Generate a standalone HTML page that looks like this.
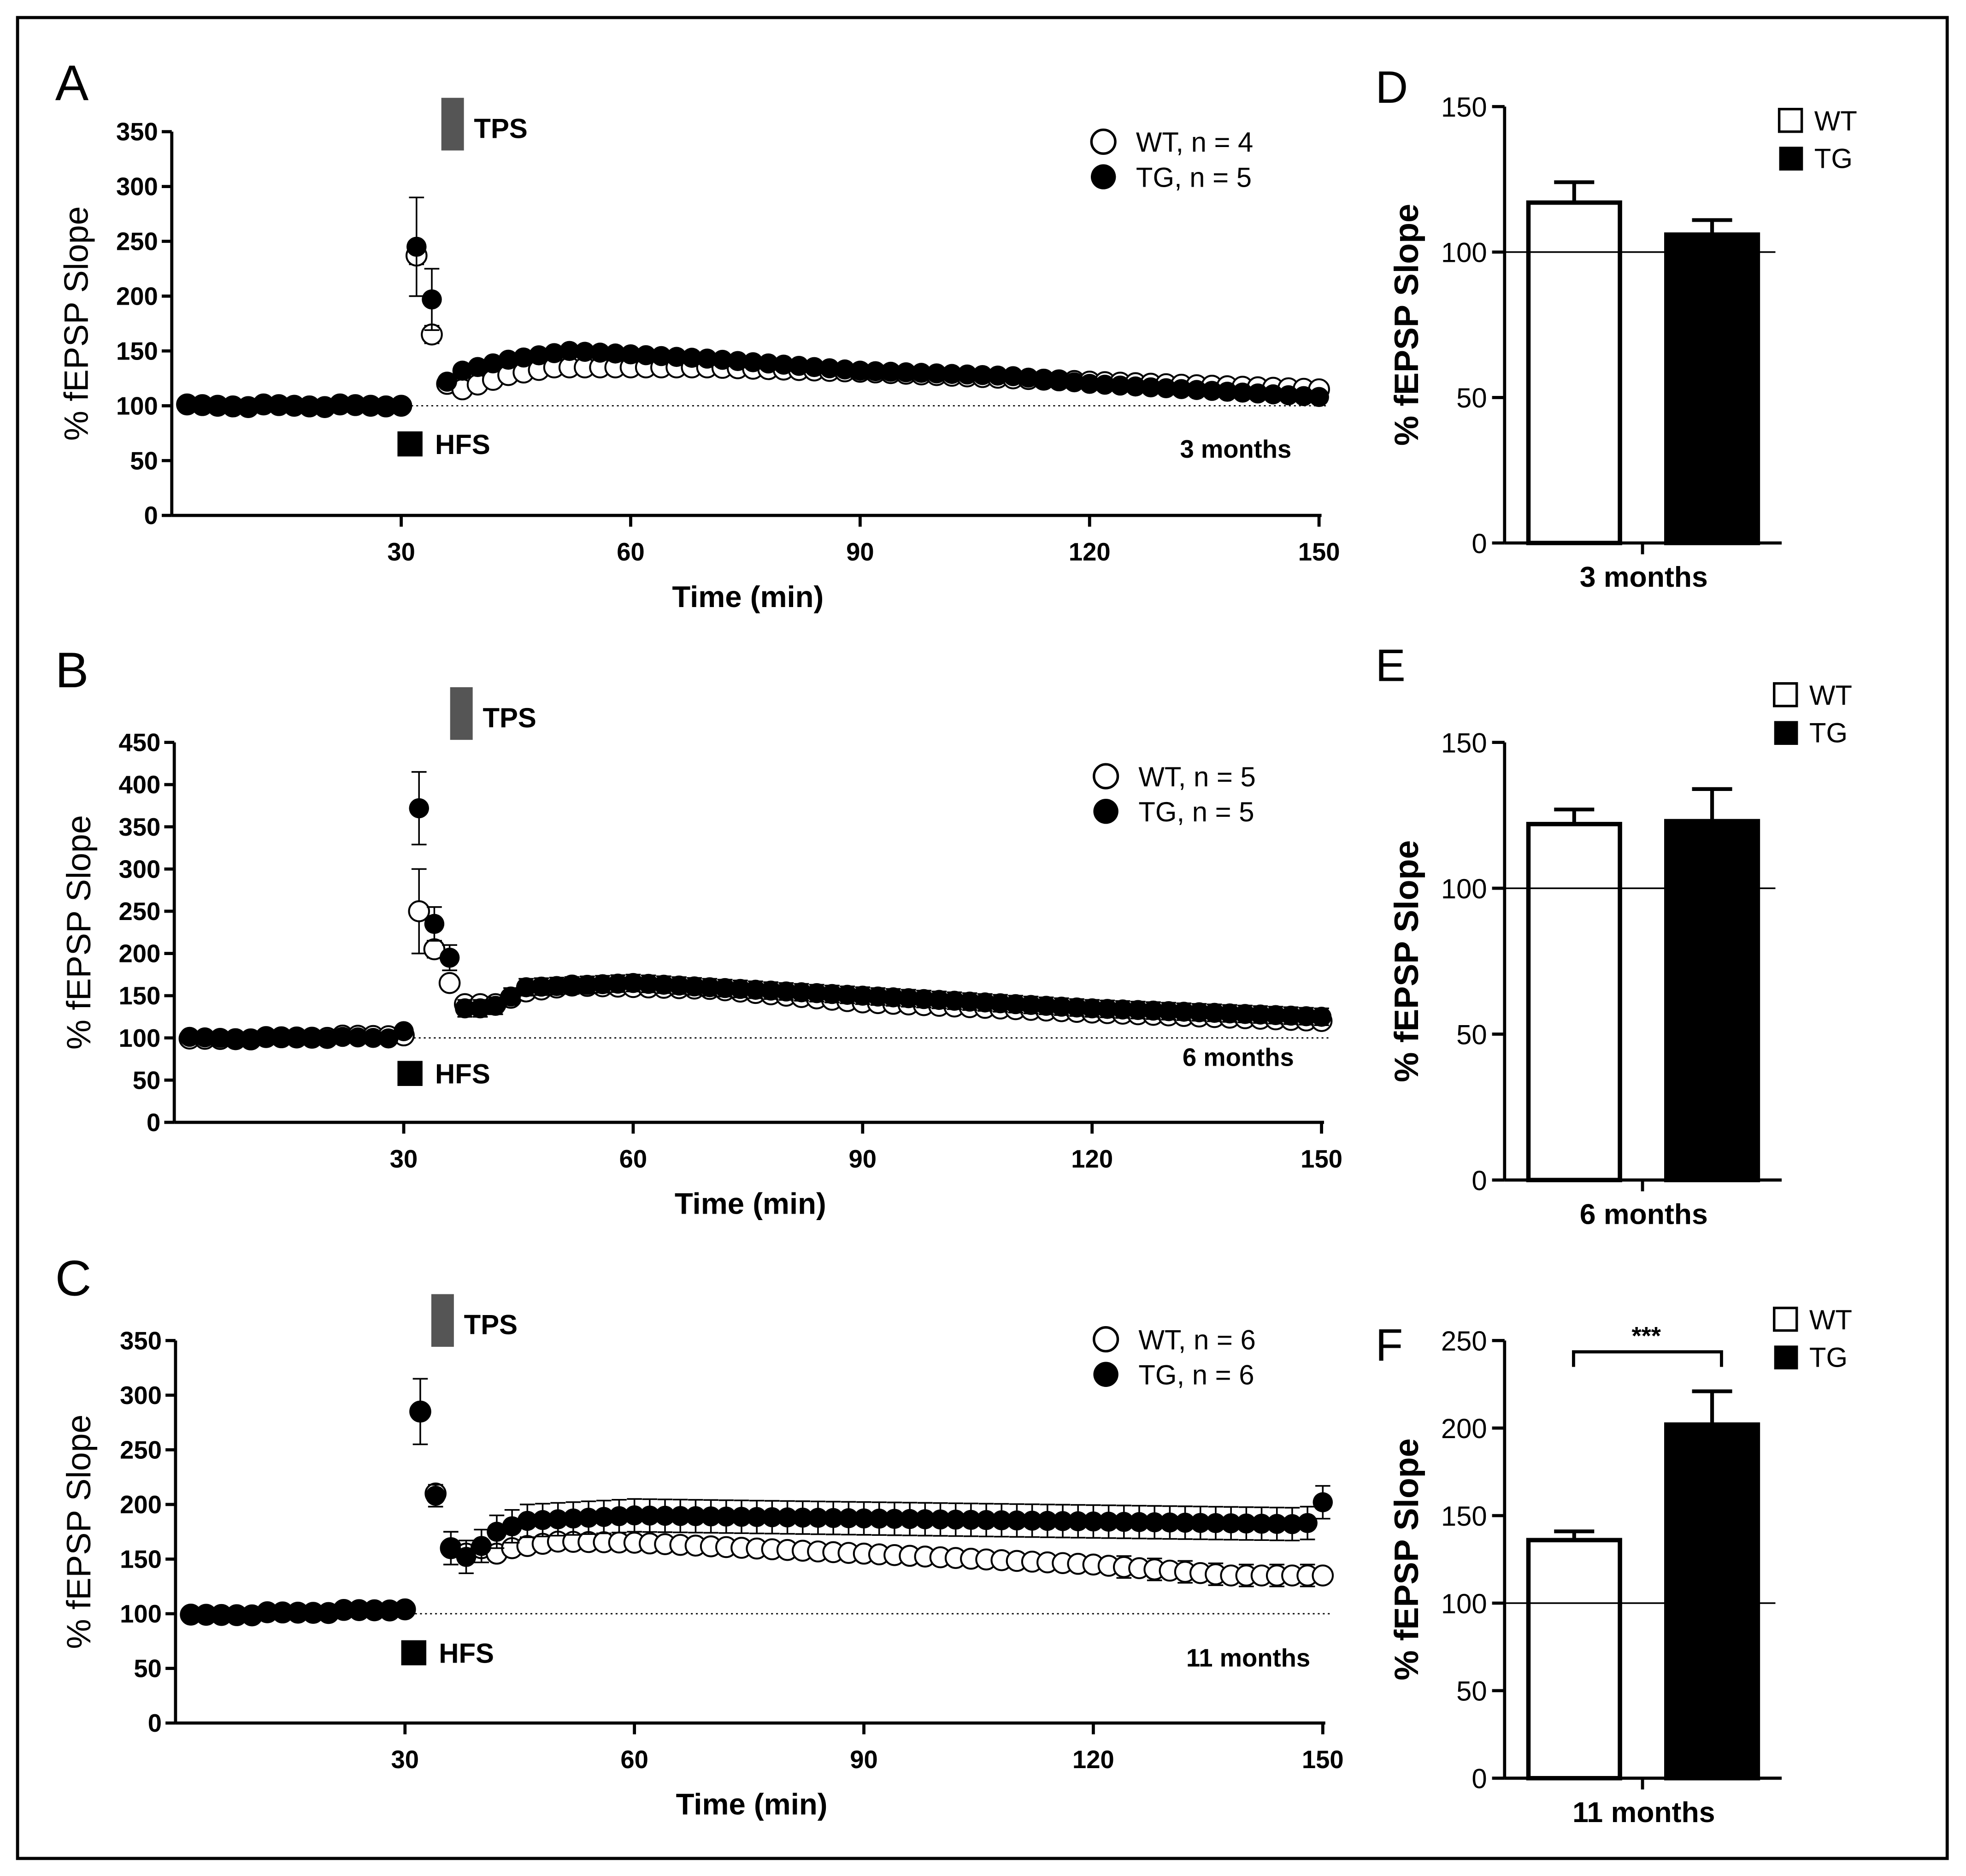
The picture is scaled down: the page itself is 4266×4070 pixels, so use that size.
<!DOCTYPE html>
<html><head><meta charset="utf-8"><style>
html,body{margin:0;padding:0;background:#fff}
svg{display:block}
text{font-family:"Liberation Sans",Arial,sans-serif}
.t{font-weight:bold;font-size:20px}
.lab{font-size:27px}
.big{font-size:40px}
</style></head><body>
<svg id="s" width="4266" height="4070" viewBox="0 0 1568 1496" preserveAspectRatio="none" xmlns="http://www.w3.org/2000/svg">
<rect x="0" y="0" width="1568" height="1496" fill="#fff"/>
<rect x="14" y="14" width="1539" height="1468" fill="none" stroke="#000" stroke-width="2.5"/>
<g id="g"></g>
</svg>
<script>
const g=document.getElementById('g');let h='';
function interp(pts,t){for(let i=0;i<pts.length-1;i++){if(t>=pts[i][0]&&t<=pts[i+1][0]){const a=pts[i],b=pts[i+1];return a[1]+(b[1]-a[1])*(t-a[0])/(b[0]-a[0]);}}return pts[pts.length-1][1];}
function line(panel){
 const P=panel;const X=t=>P.x30+(t-30)*(P.x150-P.x30)/120;const Y=v=>P.y0-(v)*(P.y0-P.ytop)/P.ymax;
 const x0=X(0);
 h+=`<line x1="${x0}" y1="${P.ytop}" x2="${x0}" y2="${P.y0}" stroke="#000" stroke-width="2.5"/>`;
 h+=`<line x1="${x0}" y1="${P.y0}" x2="${P.x150+2}" y2="${P.y0}" stroke="#000" stroke-width="2.5"/>`;
 for(let v=0;v<=P.ymax;v+=50){const y=Y(v);h+=`<line x1="${x0-8}" y1="${y}" x2="${x0}" y2="${y}" stroke="#000" stroke-width="2.5"/><text class="t" x="${x0-11}" y="${y+7}" text-anchor="end">${v}</text>`;}
 for(let t=30;t<=150;t+=30){const x=X(t);h+=`<line x1="${x}" y1="${P.y0}" x2="${x}" y2="${P.y0+9}" stroke="#000" stroke-width="2.5"/><text class="t" x="${x}" y="${P.y0+36}" text-anchor="middle">${t}</text>`;}
 h+=`<text class="t" style="font-size:24px" x="${(X(0)+X(150))/2+2}" y="${P.y0+73}" text-anchor="middle">Time (min)</text>`;
 const cy=(P.ytop+P.y0)/2;
 h+=`<text class="lab" transform="translate(${P.ylx},${cy}) rotate(-90)" text-anchor="middle">% fEPSP Slope</text>`;
 h+=`<text class="big" x="44" y="${P.Ly}">${P.L}</text>`;
 h+=`<line x1="${X(30)}" y1="${Y(100)}" x2="${X(151)}" y2="${Y(100)}" stroke="#000" stroke-width="1" stroke-dasharray="1.5,2.5"/>`;
 h+=`<rect x="${P.tps[0]}" y="${P.tps[1]}" width="18" height="42" fill="#555"/><text class="t" style="font-size:22px" x="${P.tps[0]+26}" y="${P.tps[1]+32}">TPS</text>`;
 h+=`<rect x="${P.hfs[0]}" y="${P.hfs[1]}" width="20" height="20" fill="#000"/><text class="t" style="font-size:22px" x="${P.hfs[0]+30}" y="${P.hfs[1]+18}">HFS</text>`;
 h+=`<circle cx="${P.leg[0]}" cy="${P.leg[1]}" r="9.5" fill="#fff" stroke="#000" stroke-width="2"/><text style="font-size:22px" x="${P.leg[0]+26}" y="${P.leg[1]+8}">${P.n1}</text>`;
 h+=`<circle cx="${P.leg[0]}" cy="${P.leg[1]+28}" r="10" fill="#000"/><text style="font-size:22px" x="${P.leg[0]+26}" y="${P.leg[1]+36}">${P.n2}</text>`;
 h+=`<text class="t" x="${P.mo[0]}" y="${P.mo[1]}" text-anchor="end">${P.mon}</text>`;
 const r=8;
 [['wt',P.wt,P.ewt],['tg',P.tg,P.etg]].forEach(([k,pts,e])=>{
  for(let t=2;t<=150;t+=2){ if(t==30&&false)continue;
   let v=interp(pts,t)+(t<30?((t*7)%5-2)*0.6:0);const x=X(t),y=Y(v);
   let ee=e(t,v);
   if(ee>0){const yt=Y(v+ee),yb=Y(v-ee);
    const up=k=='tg', dn=true;
    h+=`<line x1="${x}" y1="${yt}" x2="${x}" y2="${yb}" stroke="#000" stroke-width="1.3"/><line x1="${x-6}" y1="${yt}" x2="${x+6}" y2="${yt}" stroke="#000" stroke-width="1.3"/><line x1="${x-6}" y1="${yb}" x2="${x+6}" y2="${yb}" stroke="#000" stroke-width="1.3"/>`;}
   h+=k=='wt'?`<circle cx="${x}" cy="${y}" r="${r}" fill="#fff" stroke="#000" stroke-width="1.5"/>`:`<circle cx="${x}" cy="${y}" r="${r}" fill="#000"/>`;
  }
 });
}
// order: wt drawn first then tg over; in C/B wt hidden partially
line({L:'A',Ly:80,x30:320,x150:1052,y0:411,ytop:105,ymax:350,ylx:70,tps:[352,78],hfs:[317,344],leg:[880,113],n1:'WT, n = 4',n2:'TG, n = 5',mo:[1030,365],mon:'3 months',
 wt:[[2,100],[30,100],[32,237],[34,165],[36,120],[38,115],[44,128],[50,135],[70,135],[90,131],[120,122],[150,115]],
 tg:[[2,100],[30,100],[32,245],[34,197],[36,122],[38,132],[44,142],[52,150],[70,143],[90,132],[110,127],[120,120],[150,108]],
 ewt:(t,v)=>t==32?8:t==34?8:0, etg:(t,v)=>t==32?45:t==34?28:0});
line({L:'B',Ly:548,x30:322,x150:1054,y0:895,ytop:592,ymax:450,ylx:72,tps:[359,548],hfs:[317,846],leg:[882,619],n1:'WT, n = 5',n2:'TG, n = 5',mo:[1032,850],mon:'6 months',
 wt:[[2,98],[30,103],[32,250],[34,205],[36,165],[38,140],[42,140],[46,155],[52,162],[70,158],[90,142],[120,130],[150,120]],
 tg:[[2,100],[28,100],[30,108],[32,372],[34,235],[36,195],[38,135],[40,135],[42,138],[46,160],[60,165],[90,150],[120,135],[150,125]],
 ewt:(t,v)=>t==32?50:t==34?10:0, etg:(t,v)=>t==32?43:t==34?20:t==36?15:t>=38?10:0});
line({L:'C',Ly:1033,x30:323,x150:1055,y0:1374,ytop:1069,ymax:350,ylx:72,tps:[344,1032],hfs:[320,1308],leg:[882,1068],n1:'WT, n = 6',n2:'TG, n = 6',mo:[1045,1329],mon:'11 months',
 wt:[[2,98],[30,104],[32,285],[34,210],[36,160],[38,155],[40,160],[42,155],[44,160],[50,166],[60,165],[90,155],[120,145],[138,135],[150,135]],
 tg:[[2,98],[30,104],[32,285],[34,208],[36,160],[38,152],[40,162],[42,175],[46,185],[60,190],[146,182],[148,183],[150,202]],
 ewt:(t,v)=>t>=124&&t%4==0?10:0, etg:(t,v)=>t==32?30:t==34?10:t>=36?15:0});
// bar panels
function bar(B){
 const Y=v=>B.y0-v*(B.y0-B.ytop)/B.ymax;const x0=1200;
 h+=`<line x1="${x0}" y1="${B.ytop}" x2="${x0}" y2="${B.y0}" stroke="#000" stroke-width="2.5"/><line x1="${x0}" y1="${B.y0}" x2="1421" y2="${B.y0}" stroke="#000" stroke-width="2.5"/>`;
 h+=`<line x1="1310" y1="${B.y0}" x2="1310" y2="${B.y0+9}" stroke="#000" stroke-width="2.5"/>`;
 for(let v=0;v<=B.ymax;v+=50){const y=Y(v);h+=`<line x1="${x0-10}" y1="${y}" x2="${x0}" y2="${y}" stroke="#000" stroke-width="2.5"/><text style="font-size:22px" x="${x0-14}" y="${y+8}" text-anchor="end">${v}</text>`;}
 h+=`<text class="t" style="font-size:23px" x="1311" y="${B.y0+35}" text-anchor="middle">${B.mon}</text>`;
 h+=`<text class="t" style="font-size:27px" transform="translate(1131,${(B.ytop+B.y0)/2}) rotate(-90)" text-anchor="middle">% fEPSP Slope</text>`;
 h+=`<text class="big" style="font-size:36px" x="1097" y="${B.Ly}">${B.L}</text>`;
 const d=(xa,xb,v,e,fill)=>{const c=(xa+xb)/2;h+=`<line x1="${c}" y1="${Y(v)}" x2="${c}" y2="${Y(e)}" stroke="#000" stroke-width="3"/><line x1="${c-16}" y1="${Y(e)}" x2="${c+16}" y2="${Y(e)}" stroke="#000" stroke-width="3"/><rect x="${xa}" y="${Y(v)}" width="${xb-xa}" height="${B.y0-Y(v)}" fill="${fill}" stroke="#000" stroke-width="3.5"/>`;};
 d(1219,1292,B.w,B.we,'#fff');d(1329,1402,B.t,B.te,'#000');
 h+=`<line x1="${x0}" y1="${Y(100)}" x2="1416" y2="${Y(100)}" stroke="#000" stroke-width="1.3"/>`;
 h+=`<rect x="${B.lg[0]}" y="${B.lg[1]}" width="18" height="18" fill="#fff" stroke="#000" stroke-width="2"/><text style="font-size:22px" x="${B.lg[0]+28}" y="${B.lg[1]+17}">WT</text>`;
 h+=`<rect x="${B.lg[0]}" y="${B.lg[1]+30}" width="19" height="19" fill="#000"/><text style="font-size:22px" x="${B.lg[0]+28}" y="${B.lg[1]+47}">TG</text>`;
}
bar({L:'D',Ly:82,y0:433,ytop:85,ymax:150,mon:'3 months',w:117,we:124,t:106,te:111,lg:[1419,87]});
bar({L:'E',Ly:543,y0:941,ytop:592,ymax:150,mon:'6 months',w:122,we:127,t:123,te:134,lg:[1415,545]});
bar({L:'F',Ly:1085,y0:1418,ytop:1069,ymax:250,mon:'11 months',w:136,we:141,t:202,te:221,lg:[1415,1043]});
h+=`<path d="M1255 1090 V1078 H1373 V1090" fill="none" stroke="#000" stroke-width="2.5"/><text class="t" x="1313" y="1072" text-anchor="middle">***</text>`;
g.innerHTML=h;
</script>
</body></html>
